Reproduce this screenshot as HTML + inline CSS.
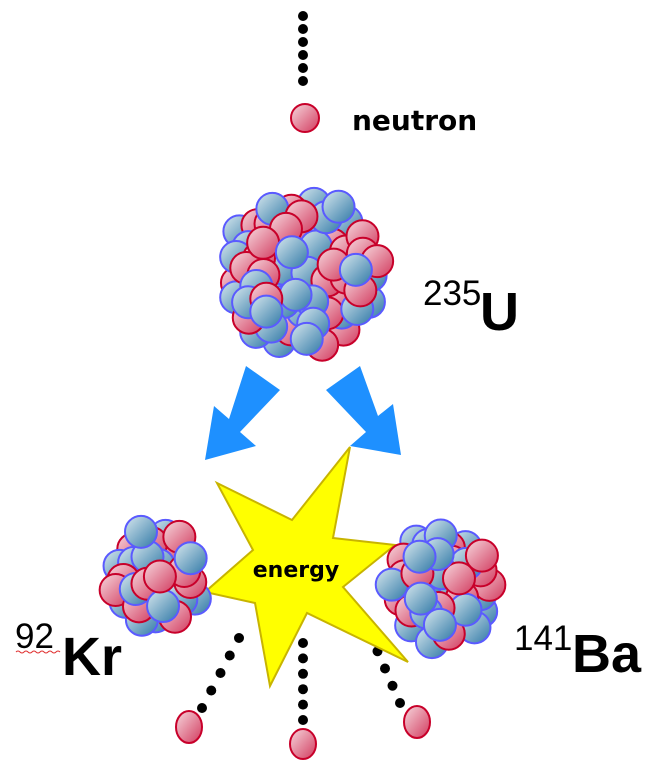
<!DOCTYPE html>
<html><head><meta charset="utf-8"><style>
body{margin:0;background:#fff;width:647px;height:781px;overflow:hidden}
svg{display:block}
text{font-family:"DejaVu Sans","Liberation Sans",sans-serif;fill:#000}
.L{font-family:"Liberation Sans",sans-serif}
</style></head><body>
<svg id="s" width="647" height="781" viewBox="0 0 647 781" xmlns="http://www.w3.org/2000/svg">
<defs>
<linearGradient id="r" x1="0" y1="0" x2="1" y2="1"><stop offset="0" stop-color="#f6d8de"/><stop offset="1" stop-color="#d23a5e"/></linearGradient>
<linearGradient id="b" x1="0" y1="0" x2="1" y2="1"><stop offset="0" stop-color="#d8e8ee"/><stop offset="1" stop-color="#2f78a6"/></linearGradient>
</defs>
<g id="dots" fill="#000"></g>
<polygon points="350,447 292,520 217,483 253,550 205,592 255,603 270,686 307,613 408,662 343,587 395,545 333,538" fill="#ffff00" stroke="#c8b400" stroke-width="2"/>
<text x="296" y="577" font-size="22" font-weight="bold" text-anchor="middle">energy</text>
<polygon points="246,366 280,390 240,432 256,446 205,460 214,406 229,419" fill="#1e90ff"/>
<polygon points="360,366 326,390 366,432 350,446 401,455 393,404 378,416" fill="#1e90ff"/>
<g id="clusters"></g>
<text x="352" y="130" font-size="28" font-weight="bold">neutron</text>
<text class="L" x="423" y="305" font-size="35">235</text><text class="L" x="480" y="330" font-size="54" font-weight="bold">U</text>
<text class="L" x="15" y="648" font-size="35">92</text><text class="L" x="62" y="675" font-size="54" font-weight="bold">Kr</text>
<path d="M16 652 q2 -2 4 0 t4 0 t4 0 t4 0 t4 0 t4 0 t4 0 t4 0 t4 0 t4 0 t4 0" stroke="#e03030" fill="none" stroke-width="1"/>
<text class="L" x="514" y="650" font-size="35">141</text><text class="L" x="572" y="672" font-size="54" font-weight="bold">Ba</text>
</svg>
<script>
var NS="http://www.w3.org/2000/svg";
function c(p,x,y,r,f,st,ry){var e=document.createElementNS(NS,ry?"ellipse":"circle");e.setAttribute("cx",x);e.setAttribute("cy",y);
if(ry){e.setAttribute("rx",r);e.setAttribute("ry",ry);}else e.setAttribute("r",r);
e.setAttribute("fill",f);if(st){e.setAttribute("stroke",st);e.setAttribute("stroke-width",2);}p.appendChild(e);}
var d=document.getElementById("dots");
for(var i=0;i<6;i++)c(d,303,16+i*13,5,"#000");
function line(x1,y1,x2,y2,n){for(var i=0;i<n;i++)c(d,x1+(x2-x1)*i/(n-1),y1+(y2-y1)*i/(n-1),5,"#000");}
line(239,638,202,708,5);line(303,643,303,720,6);line(370,634,400,703,5);
var g=document.getElementById("clusters");
var seed=11;function rnd(){seed=(seed*16807)%2147483647;return seed/2147483647;}
function ball(x,y,red,r,ry){c(g,x,y,r||16,red?"url(#r)":"url(#b)",red?"#c8002a":"#5a5aff",ry);}
function cluster(cx,cy,rx,ry,n){var pts=[];for(var i=0;i<n;i++){var t=Math.sqrt((i+0.5)/n),a=i*2.39996;pts.push([cx+Math.cos(a)*t*rx+(rnd()-0.5)*4,cy+Math.sin(a)*t*ry+(rnd()-0.5)*4]);}
for(var i=pts.length-1;i>0;i--){var j=Math.floor(rnd()*(i+1));var tmp=pts[i];pts[i]=pts[j];pts[j]=tmp;}
pts.forEach(function(p){ball(p[0],p[1],rnd()<0.5);});}
ball(305,118,true,14);
cluster(303,273,76,76,70);
cluster(156,578,44,50,32);
cluster(442,588,52,55,42);
ball(189,727,true,13,16);ball(303,744,true,13,15);ball(417,722,true,13,16);
</script>
</body></html>
